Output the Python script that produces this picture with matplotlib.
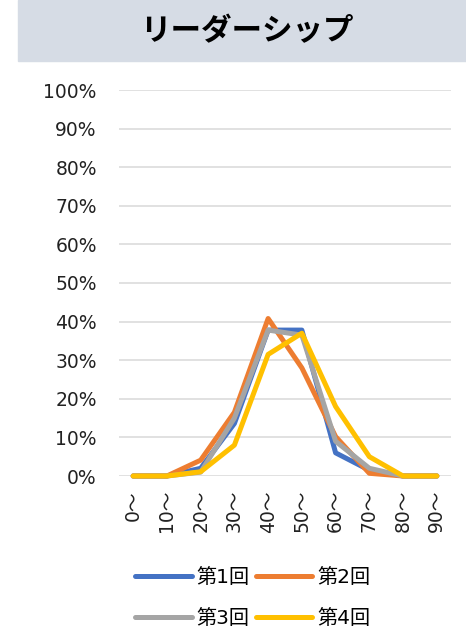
import matplotlib
matplotlib.use('Agg')
import matplotlib.pyplot as plt
from matplotlib.patches import Rectangle

plt.rcParams['font.family'] = ['DejaVu Sans', 'Noto Sans CJK JP']

# データ
categories = ['0～', '10～', '20～', '30～', '40～', '50～', '60～', '70～', '80～', '90～']
series_names = ['第1回', '第2回', '第3回', '第4回']
r1 = [0.0, 0.0, 0.02, 0.136, 0.378, 0.378, 0.06, 0.015, 0.0, 0.0]
r2 = [0.0, 0.0, 0.041, 0.165, 0.408, 0.28, 0.102, 0.007, 0.0, 0.0]
r3 = [0.0, 0.0, 0.01, 0.15, 0.378, 0.365, 0.09, 0.02, 0.0, 0.0]
r4 = [0.0, 0.0, 0.011, 0.08, 0.315, 0.37, 0.18, 0.05, 0.0, 0.0]
colors = ['#4472C4', '#ED7D31', '#A5A5A5', '#FFC000']

fig = plt.figure(figsize=(4.66, 6.3), dpi=100)

# タイトル帯
fig.patches.append(Rectangle((18/466, 1-61/630), 1-18/466, 61/630,
                             transform=fig.transFigure, color='#D6DCE5', zorder=0))
fig.text(0.53, 1-31/630, 'リーダーシップ', ha='center', va='center',
         fontsize=22, fontweight='bold', family='Noto Sans CJK JP', color='#000000')

ax = fig.add_axes([119/466, 1-476/630, (451-119)/466, (476-90)/630])
x = list(range(len(categories)))
lines = []
for vals, name, c in zip([r1, r2, r3, r4], series_names, colors):
    ln, = ax.plot(x, vals, color=c, linewidth=3.6, label=name, clip_on=False,
                  solid_capstyle='round', solid_joinstyle='round')
    lines.append(ln)

ax.set_ylim(0, 1)
ax.set_xlim(-0.42, 9.42)
ax.set_yticks([i/10 for i in range(11)])
ax.set_yticklabels([f'{i*10}%' for i in range(11)])
ax.set_xticks(x)
ax.set_xticklabels(categories, rotation=90, va='top', ha='center')
ax.tick_params(axis='both', length=0, labelsize=13.5, colors='#222222')
ax.tick_params(axis='y', pad=16)
ax.tick_params(axis='x', pad=10)
ax.grid(axis='y', color='#D9D9D9', linewidth=1.1)
ax.set_axisbelow(True)
for s in ax.spines.values():
    s.set_visible(False)

# 凡例は行優先で並べる
order = [0, 2, 1, 3]
fig.legend([lines[i] for i in order], [series_names[i] for i in order],
           loc='center', bbox_to_anchor=(253/466, 1-598/630), ncol=2, frameon=False,
           handlelength=2.8, handletextpad=0.25, columnspacing=0.3,
           labelspacing=1.1, prop={'family': ['DejaVu Sans', 'Noto Sans CJK JP'], 'size': 14.5})

fig.savefig('out.png', dpi=100)
